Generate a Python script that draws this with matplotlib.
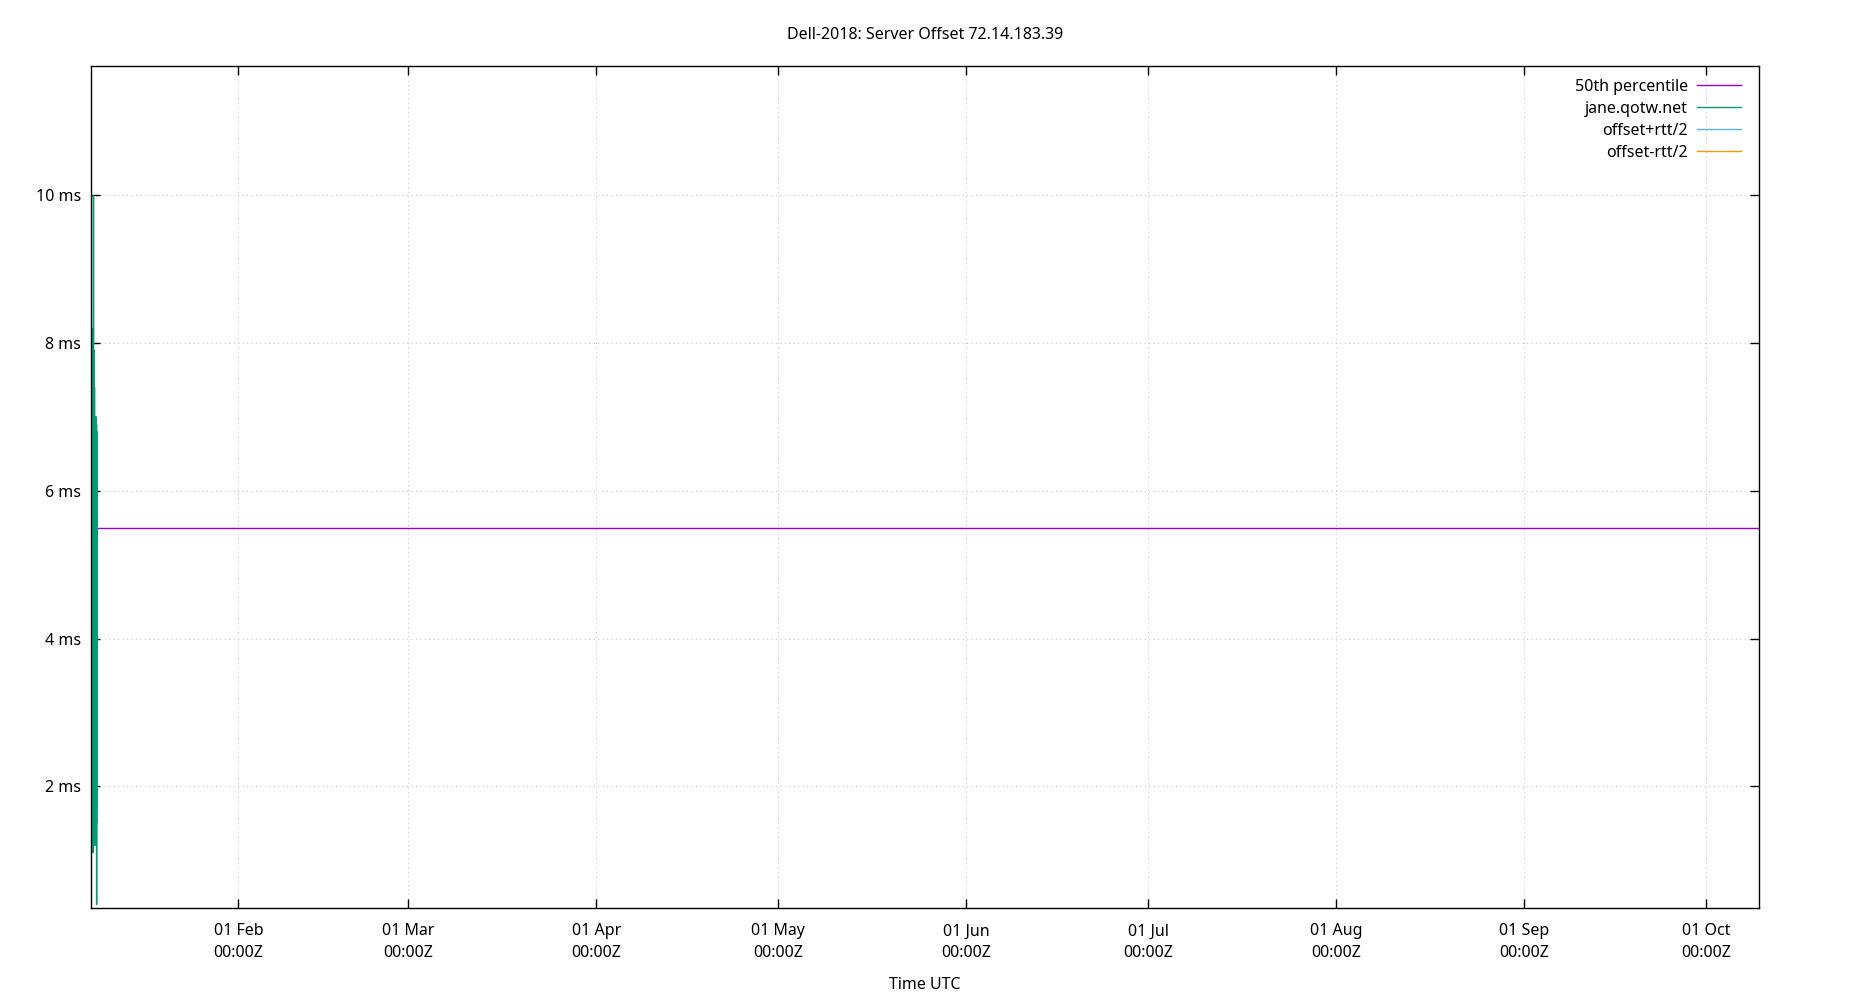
import datetime as dt
import matplotlib
matplotlib.use("Agg")
import matplotlib.pyplot as plt
import matplotlib.dates as mdates

plt.rcParams['font.family'] = ['Noto Sans', 'DejaVu Sans']
plt.rcParams['font.size'] = 11.5

# window shown on the time axis (UTC)
x_start = dt.datetime(2023, 1, 7, 16, 48)
x_end = dt.datetime(2023, 10, 9, 17, 45)

# jane.qotw.net offsets (ms), one sample every 24 minutes from t0
t0 = dt.datetime(2023, 1, 7, 17, 0)
step_min = 24
jane_ms = [6.6, 2.1, 7.1, 1.4, 6.9, 2.3, 7.0, 1.3, 6.7, 1.2,
           6.8, 1.5, 7.0, 3.3, 6.4, 1.6, 6.9, 1.6, 6.9, 2.0,
           8.2, 1.1, 7.1, 1.7, 10.0, 2.2, 6.9, 1.4, 6.8, 2.5,
           7.9, 1.3, 6.6, 1.6, 7.4, 1.9, 6.8, 1.2, 6.9, 3.0,
           6.7, 1.4, 7.0, 1.5, 6.6, 2.1, 6.9, 1.3, 6.8, 1.8,
           7.0, 2.4, 6.7, 1.5, 6.9, 0.4, 6.8, 1.7, 6.5, 2.6]
jane_t = [t0 + dt.timedelta(minutes=step_min * i) for i in range(len(jane_ms))]

# offset +/- rtt/2 (no samples drawn in this window)
hi_t, hi_ms = [], []
lo_t, lo_ms = [], []

median_ms = 5.50

y_min, y_max = 0.36, 11.75
y_ticks = [2, 4, 6, 8, 10]

fig = plt.figure(figsize=(18.5, 10), dpi=100)
ax = fig.add_axes([0.0492, 0.0925, 0.9016, 0.8415])

ax.axhline(median_ms, color='#9400d3', lw=1.0, label='50th percentile')
ax.plot(jane_t, jane_ms, color='#009e73', lw=1.0, label='jane.qotw.net')
ax.plot(hi_t, hi_ms, color='#56b4e9', lw=1.0, label='offset+rtt/2')
ax.plot(lo_t, lo_ms, color='#e69f00', lw=1.0, label='offset-rtt/2')

ax.set_xlim(x_start, x_end)
ax.set_ylim(y_min, y_max)

ax.xaxis.set_major_locator(mdates.MonthLocator(bymonth=range(2, 11)))
ax.xaxis.set_major_formatter(mdates.DateFormatter('%d %b\n%H:%MZ'))
ax.set_yticks(y_ticks)
ax.yaxis.set_major_formatter(plt.FuncFormatter(lambda v, p: '%d ms' % v))

ax.tick_params(direction='in', length=6.5, width=1, top=True, right=True,
               colors='black')
ax.tick_params(axis='x', pad=11.5)
ax.tick_params(axis='y', pad=7)
ax.grid(True, color='#c8c8c8', lw=0.8, linestyle=(0, (1, 3)))
for s in ax.spines.values():
    s.set_linewidth(1.0)

ax.set_title('Dell-2018: Server Offset 72.14.183.39', fontsize=11.5, pad=19.7)
ax.set_xlabel('Time UTC', labelpad=11)

ax.legend(loc='upper right', bbox_to_anchor=(1.0, 1.006), frameon=False,
          markerfirst=False, handlelength=2.8, handletextpad=0.55,
          labelspacing=0.38, borderaxespad=0.7, fontsize=11.5)

fig.canvas.draw()
for lbl in ax.get_xticklabels():
    lbl.set_linespacing(1.5)

fig.savefig('out.png', dpi=100)
